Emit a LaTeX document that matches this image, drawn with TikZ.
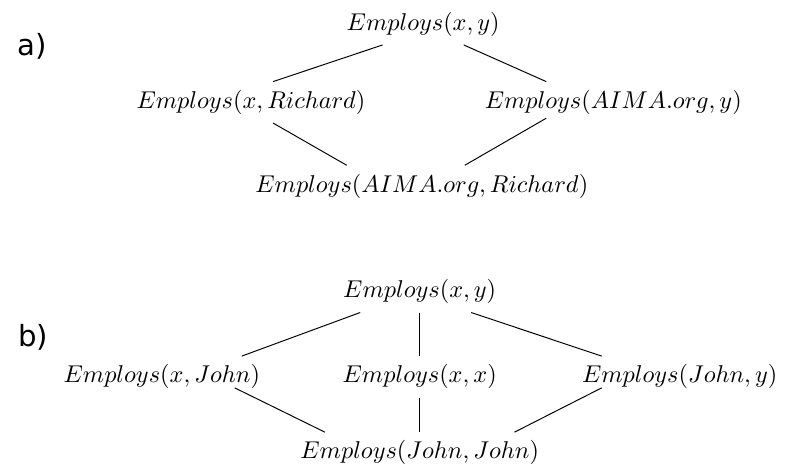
\documentclass[tikz,border=0pt]{standalone}
\usepackage{fontspec}
\usepackage{amsmath}
\newfontfamily\labelfont{DejaVu Sans}

\begin{document}
\begin{tikzpicture}[auto]
    \useasboundingbox (0, 0) rectangle (11.44, 6.74);
    \node (20) at (0.47, 6.07) {\labelfont\fontsize{12}{14}\selectfont a)};
    \node (0) at (6.12, 6.39) {$Employs(x, y)$};
    \node (1) at (3.63, 5.26) {$Employs(x, Richard)$};
    \node (2) at (8.87, 5.26) {$Employs(AIMA.org, y)$};
    \node (3) at (6.10, 4.05) {$Employs(AIMA.org, Richard)$};
    \node (21) at (0.48, 1.86) {\labelfont\fontsize{12}{14}\selectfont b)};
    \node (10) at (6.07, 2.52) {$Employs(x, y)$};
    \node (11) at (2.34, 1.29) {$Employs(x, John)$};
    \node (12) at (6.07, 1.29) {$Employs(x, x)$};
    \node (13) at (9.83, 1.29) {$Employs(John, y)$};
    \node (14) at (6.07, 0.19) {$Employs(John, John)$};
    \draw [-] ([xshift=-16.7pt]0.south) to ([xshift=9.1pt]1.north);
    \draw [-] ([xshift=16.7pt]0.south) to ([xshift=-27.6pt]2.north);
    \draw [-] ([xshift=9.1pt]1.south) to ([xshift=-30.9pt]3.north);
    \draw [-] ([xshift=-27.6pt, yshift=2pt]2.south) to ([xshift=17.7pt]3.north);
    \draw [-] ([xshift=-24.5pt]10.south) to ([xshift=32.9pt]11.north);
    \draw [-] (10.south) to (12.north);
    \draw [-] ([xshift=21.2pt]10.south) to ([xshift=-32.1pt]13.north);
    \draw [-] ([xshift=30pt, yshift=4pt]11.south) to ([xshift=-39pt]14.north);
    \draw [-] (12.south) to (14.north);
    \draw [-] ([xshift=-32.1pt, yshift=4pt]13.south) to ([xshift=39pt]14.north);
  \end{tikzpicture}
\end{document}
